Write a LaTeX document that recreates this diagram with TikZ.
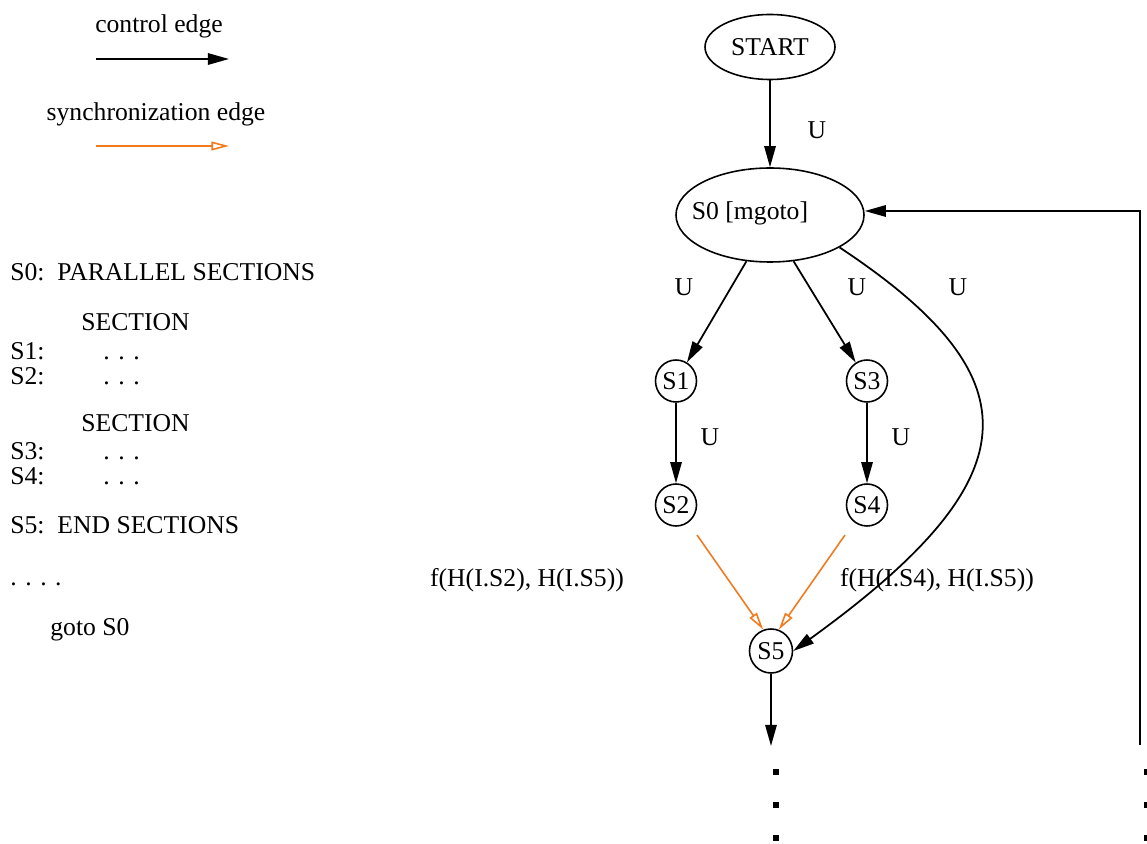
\documentclass[tikz,border=0pt]{standalone}
\usepackage{fontspec}
\setmainfont{Liberation Serif}
\usetikzlibrary{positioning, arrows.meta, shapes.geometric}
\definecolor{syncorange}{RGB}{242,122,30}

\begin{document}
\begin{tikzpicture}[x=0.02cm, y=-0.02cm, font=\fontsize{14.6}{17}\selectfont,
    stmt/.style={draw, ellipse, line width=0.9pt, inner sep=0pt},
    ctrl/.style={-{Triangle[length=12pt, width=6.5pt]}, line width=1pt},
    sync/.style={-{Triangle[open, length=10pt, width=5pt]}, line width=0.9pt, syncorange},
    codeline/.style={anchor=west, inner sep=0pt, text height=1.6ex, text depth=0.3ex},
    dot/.style={fill, minimum size=3pt, inner sep=0pt, rectangle}]
    \useasboundingbox (0,0) rectangle (1147,844);

    % Legend
    \node (ctrltxt) at (159, 26) {control edge};
    \coordinate (c1) at (96, 59);
    \coordinate (c2) at (229, 59);
    \draw[ctrl] (c1) -- (c2);
    \node (synctxt) at (156, 114) {synchronization edge};
    \coordinate (s1) at (96, 146);
    \coordinate (s2) at (229, 146);
    \draw[sync] (s1) -- (s2);

    % Program text
    \node (l0) at (10, 275) [codeline] {S0:\ \ PARALLEL SECTIONS};
    \node (l1) at (81, 325) [codeline] {SECTION};
    \node (l2) at (10, 354) [codeline] {S1:};
    \node (l2d) at (103, 354) [codeline] {. . .};
    \node (l3) at (10, 379) [codeline] {S2:};
    \node (l3d) at (103, 379) [codeline] {. . .};
    \node (l4) at (81, 426) [codeline] {SECTION};
    \node (l5) at (10, 454) [codeline] {S3:};
    \node (l5d) at (103, 454) [codeline] {. . .};
    \node (l6) at (10, 479) [codeline] {S4:};
    \node (l6d) at (103, 479) [codeline] {. . .};
    \node (l7) at (10, 528) [codeline] {S5:\ \ END SECTIONS};
    \node (l8) at (10, 580) [codeline] {. . . .};
    \node (l9) at (50, 630) [codeline] {goto S0};

    % Graph nodes
    \node (start) at (770, 47) [stmt, minimum width=130*0.02cm, minimum height=65*0.02cm] {START};
    \node (s0) at (770, 215) [stmt, minimum width=188*0.02cm, minimum height=94*0.02cm] {};
    \node (s0txt) at (750, 213) {S0 [mgoto]};
    \node (n1) at (676, 381) [stmt, minimum width=41*0.02cm, minimum height=42*0.02cm] {S1};
    \node (n3) at (867, 381) [stmt, minimum width=41*0.02cm, minimum height=42*0.02cm] {S3};
    \node (n2) at (676, 505) [stmt, minimum width=41*0.02cm, minimum height=42*0.02cm] {S2};
    \node (n4) at (867, 505) [stmt, minimum width=41*0.02cm, minimum height=42*0.02cm] {S4};
    \node (n5) at (771, 651) [stmt, minimum width=43*0.02cm, minimum height=44*0.02cm] {S5};

    % Control edges
    \draw[ctrl] (start) -- (s0);
    \node (u0) at (817, 130) {U};
    \draw[ctrl] (s0.243) -- (n1);
    \node (u1) at (684, 287) {U};
    \draw[ctrl] (s0.297) -- (n3);
    \node (u2) at (857, 287) {U};
    \draw[ctrl] (s0.335) .. controls (1040, 380) and (1030, 480) .. (n5.east);
    \node (u3) at (958, 287) {U};
    \draw[ctrl] (n1) -- (n2);
    \node (u4) at (710, 437) {U};
    \draw[ctrl] (n3) -- (n4);
    \node (u5) at (901, 437) {U};

    % Synchronization edges
    \coordinate (o2) at (697, 535);
    \coordinate (o4) at (845, 535);
    \draw[sync] (o2) -- (n5.110);
    \draw[sync] (o4) -- (n5.70);
    \node (f1) at (527, 580) {f(H(I.S2), H(I.S5))};
    \node (f2) at (937, 580) {f(H(I.S4), H(I.S5))};

    % Continuation below S5
    \coordinate (down) at (771, 746);
    \draw[ctrl] (n5) -- (down);
    \foreach \y in {772, 805, 838}
        \node (d\y) at (776, \y) [dot] {};

    % Back edge to S0
    \coordinate (back) at (1140, 745);
    \coordinate (corner) at (1140, 211);
    \draw[ctrl] (back) -- (corner) -- (s0.east |- corner);
    \foreach \y in {772, 805, 838}
        \node (r\y) at (1147, \y) [dot] {};
\end{tikzpicture}
\end{document}
